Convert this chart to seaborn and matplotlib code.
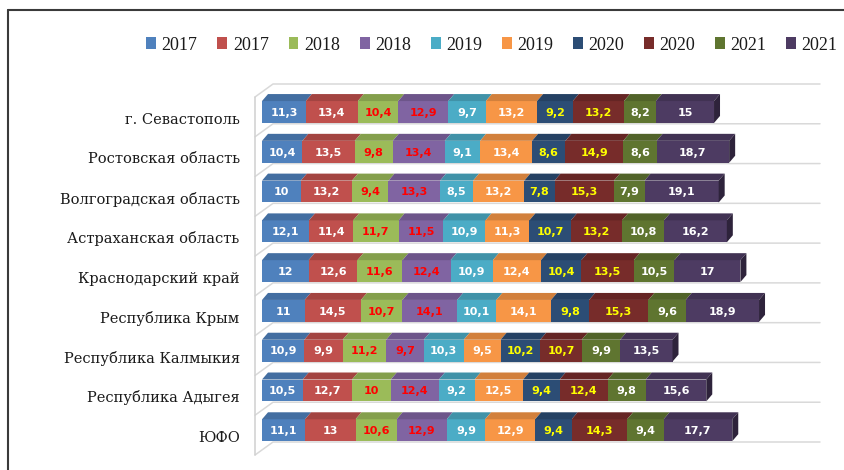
import numpy as np
import pandas as pd
import seaborn as sns
import matplotlib
matplotlib.use("Agg")
import matplotlib.pyplot as plt
from matplotlib.patches import Polygon, Patch
from matplotlib.lines import Line2D
import matplotlib.colors as mcolors

# ---------------- data ----------------
regions = ["г. Севастополь", "Ростовская область", "Волгоградская область",
           "Астраханская область", "Краснодарский край", "Республика Крым",
           "Республика Калмыкия", "Республика Адыгея", "ЮФО"]
series_labels = ["2017", "2017", "2018", "2018", "2019", "2019",
                 "2020", "2020", "2021", "2021"]
s2017a = [11.3, 10.4, 10, 12.1, 12, 11, 10.9, 10.5, 11.1]
s2017b = [13.4, 13.5, 13.2, 11.4, 12.6, 14.5, 9.9, 12.7, 13]
s2018a = [10.4, 9.8, 9.4, 11.7, 11.6, 10.7, 11.2, 10, 10.6]
s2018b = [12.9, 13.4, 13.3, 11.5, 12.4, 14.1, 9.7, 12.4, 12.9]
s2019a = [9.7, 9.1, 8.5, 10.9, 10.9, 10.1, 10.3, 9.2, 9.9]
s2019b = [13.2, 13.4, 13.2, 11.3, 12.4, 14.1, 9.5, 12.5, 12.9]
s2020a = [9.2, 8.6, 7.8, 10.7, 10.4, 9.8, 10.2, 9.4, 9.4]
s2020b = [13.2, 14.9, 15.3, 13.2, 13.5, 15.3, 10.7, 12.4, 14.3]
s2021a = [8.2, 8.6, 7.9, 10.8, 10.5, 9.6, 9.9, 9.8, 9.4]
s2021b = [15, 18.7, 19.1, 16.2, 17, 18.9, 13.5, 15.6, 17.7]

series = [s2017a, s2017b, s2018a, s2018b, s2019a, s2019b,
          s2020a, s2020b, s2021a, s2021b]

# ---------------- style ----------------
colors = ["#4F81BD", "#C0504D", "#9BBB59", "#8064A2", "#4BACC6",
          "#F79646", "#2C4D75", "#772C2A", "#5F7530", "#4D3B62"]
label_colors = ["white", "white", "#FF0000", "#FF0000", "white", "white",
                "#FFFF00", "#FFFF00", "white", "white"]

sns.set_theme(style="white")
plt.rcParams["font.family"] = ["DejaVu Sans"]

W, H, DPI = 844, 470, 100
fig = plt.figure(figsize=(W / DPI, H / DPI), dpi=DPI)

ax_l, ax_r, ax_t, ax_b = 255, 802, 97, 455   # pixel extents of the front plane
ax = fig.add_axes([ax_l / W, 1 - ax_b / H, (ax_r - ax_l) / W, (ax_b - ax_t) / H])

ppu = 3.88            # pixels per value unit
x0px = 262            # pixel where value 0 sits
xmin = -(x0px - ax_l) / ppu
xmax = (ax_r - x0px) / ppu
row_px = (ax_b - ax_t) / 9.0
c = 0.123
ylo, yhi = -0.5 + c, 8.5 + c

vals = np.array(series).T            # rows x series
cum = np.cumsum(vals, axis=1)

df = pd.DataFrame({"region": regions})
for i in range(10):
    df[f"c{i}"] = cum[:, i]

bar_h = 0.55
for i in reversed(range(10)):
    sns.barplot(data=df, x=f"c{i}", y="region", orient="h", color=colors[i],
                saturation=1, width=bar_h, linewidth=0, errorbar=None, ax=ax,
                zorder=3)

ax.set_xlim(xmin, xmax)
ax.set_ylim(yhi, ylo)
ax.set_xticks([])
ax.set_yticks(np.arange(9) + 0.151)
ax.set_yticklabels(regions, family="DejaVu Serif", fontsize=10.5, color="#1a1a1a")
ax.tick_params(axis="y", length=0, pad=11)
ax.set_xlabel("")
ax.set_ylabel("")
for s in ax.spines.values():
    s.set_visible(False)
ax.patch.set_alpha(0)

# 3D depth of bars
dxd = 6 / ppu
dyd = 7 / row_px

def darker(col, f):
    r, g, b = mcolors.to_rgb(col)
    return (r * f, g * f, b * f)

for k in range(9):
    yt = k - bar_h / 2
    yb = k + bar_h / 2
    prev = 0.0
    for i in range(10):
        x1 = cum[k, i]
        ax.add_patch(Polygon([(prev, yt), (x1, yt), (x1 + dxd, yt - dyd),
                              (prev + dxd, yt - dyd)], closed=True,
                             facecolor=darker(colors[i], 0.85), edgecolor="none",
                             zorder=4, clip_on=False))
        txt = f"{vals[k, i]:g}".replace(".", ",")
        ax.text((prev + x1) / 2, k + 0.02, txt, ha="center", va="center",
                color=label_colors[i], fontsize=8, fontweight="bold",
                family="DejaVu Sans", zorder=6)
        prev = x1
    T = cum[k, -1]
    ax.add_patch(Polygon([(T, yt), (T + dxd, yt - dyd), (T + dxd, yb - dyd),
                          (T, yb)], closed=True,
                         facecolor=darker(colors[-1], 0.6), edgecolor="none",
                         zorder=4, clip_on=False))

# walls / gridlines
dxw = 18 / ppu
dyw = 13 / row_px
xL = xmin
xR = (820 - x0px) / ppu
for j in range(10):
    yj = ylo + j
    ax.plot([xL, xL + dxw, xR], [yj, yj - dyw, yj - dyw], color="#D9D9D9",
            lw=1.1, clip_on=False, zorder=1)
ax.plot([xL, xL], [ylo, yhi], color="#D0D0D0", lw=1.1, clip_on=False, zorder=1)

# legend
handles = [Patch(facecolor=col, edgecolor="none") for col in colors]
fig.legend(handles, series_labels, ncol=10, loc="center",
           bbox_to_anchor=(492 / W, 1 - 45 / H), frameon=False,
           prop=dict(family="Liberation Serif", size=13),
           handlelength=0.55, handleheight=0.6, handletextpad=0.3,
           columnspacing=1.1, borderpad=0, labelcolor="#1a1a1a")

# outer frame (left and top)
fig.add_artist(Line2D([8 / W, 8 / W], [0, 1 - 10 / H], transform=fig.transFigure,
                      color="#3a3a3a", lw=1.5))
fig.add_artist(Line2D([8 / W, 1], [1 - 10 / H, 1 - 10 / H], transform=fig.transFigure,
                      color="#3a3a3a", lw=1.5))

fig.savefig("out.png", dpi=DPI, facecolor="white")
